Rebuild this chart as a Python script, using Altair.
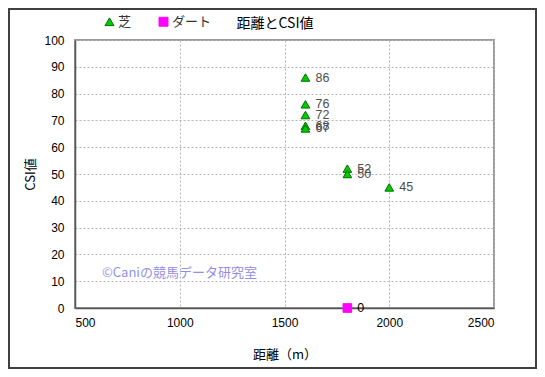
import altair as alt
import pandas as pd

# ---- data ----
turf_dist = [1600, 1600, 1600, 1600, 1600, 1800, 1800, 2000]
turf_csi = [86, 76, 72, 68, 67, 52, 50, 45]
dirt_dist = [1800]
dirt_csi = [0]
surfaces = ["芝", "ダート"]
x_ticks = [500, 1000, 1500, 2000, 2500]
y_ticks = [0, 10, 20, 30, 40, 50, 60, 70, 80, 90, 100]

df = pd.DataFrame({
    "距離": turf_dist + dirt_dist,
    "CSI値": turf_csi + dirt_csi,
    "馬場": [surfaces[0]] * len(turf_dist) + [surfaces[1]] * len(dirt_dist),
})

W, H = 419, 268
JP = "Noto Sans CJK JP"
NUM = "Liberation Sans"

x_enc = alt.X("距離:Q", scale=alt.Scale(domain=[500, 2500], nice=False, zero=False),
              axis=alt.Axis(values=x_ticks, title="距離（m）", format="d"))
y_enc = alt.Y("CSI値:Q", scale=alt.Scale(domain=[0, 100], nice=False),
              axis=alt.Axis(values=y_ticks, title="CSI値", format="d"))

points = alt.Chart(df).mark_point(filled=True, opacity=1, strokeWidth=1).encode(
    x=x_enc,
    y=y_enc,
    shape=alt.Shape("馬場:N", sort=surfaces,
                    scale=alt.Scale(domain=surfaces, range=["triangle-up", "square"]),
                    legend=alt.Legend(orient="none", legendX=28, legendY=-25,
                                      direction="horizontal", title=None,
                                      labelFont=JP, labelFontSize=13, labelColor="#333333",
                                      symbolSize=80, labelOffset=2, columnPadding=25,
                                      padding=0, symbolStrokeWidth=1)),
    color=alt.Color("馬場:N", sort=surfaces,
                    scale=alt.Scale(domain=surfaces, range=["#00cc00", "#ff00ff"])),
    stroke=alt.Stroke("馬場:N", sort=surfaces,
                      scale=alt.Scale(domain=surfaces, range=["#007000", "#ff00ff"])),
    size=alt.value(75),
)

labels = alt.Chart(df).mark_text(align="left", baseline="middle", dx=10,
                                 font=NUM, fontSize=12.5).encode(
    x=x_enc,
    y=y_enc,
    text=alt.Text("CSI値:Q", format="d"),
    color=alt.condition(alt.datum["馬場"] == "ダート", alt.value("#000000"), alt.value("#4d4d4d")),
)

one = pd.DataFrame({"k": [0]})

watermark = alt.Chart(one).mark_text(align="left", baseline="middle", font=JP,
                                     fontSize=13, color="#9090e8").encode(
    x=alt.value(27), y=alt.value(233), text=alt.value("©Caniの競馬データ研究室"))

title = alt.Chart(one).mark_text(align="center", baseline="middle", font=JP,
                                 fontSize=14, color="#000000").encode(
    x=alt.value(200), y=alt.value(-16), text=alt.value("距離とCSI値"))

frame = alt.Chart(one).mark_rect(fill=None, stroke="#404040", strokeWidth=2).encode(
    x=alt.value(-66), x2=alt.value(W + 42), y=alt.value(-31), y2=alt.value(H + 60))

chart = alt.layer(points, labels, watermark, title, frame).properties(
    width=W, height=H,
    autosize=alt.AutoSizeParams(type="none"),
    padding={"left": 67, "top": 32, "right": 43, "bottom": 61},
).resolve_scale(color="shared").configure(
    background="white",
).configure_view(
    stroke="#9a9a9a", strokeWidth=2,
).configure_axis(
    domainColor="#555555", domainWidth=1.5,
    grid=True, gridColor="#b4b4b4", gridDash=[2, 2], gridWidth=1,
    ticks=False,
    labelFont=NUM, labelFontSize=12, labelColor="#000000",
    titleFont=JP, titleFontSize=13, titleFontWeight="normal", titleColor="#000000",
).configure_axisX(
    labelPadding=9, titlePadding=20,
).configure_axisY(
    labelPadding=11, titlePadding=6,
)

chart.save("out.html", embed_options={"renderer": "svg", "actions": False})
